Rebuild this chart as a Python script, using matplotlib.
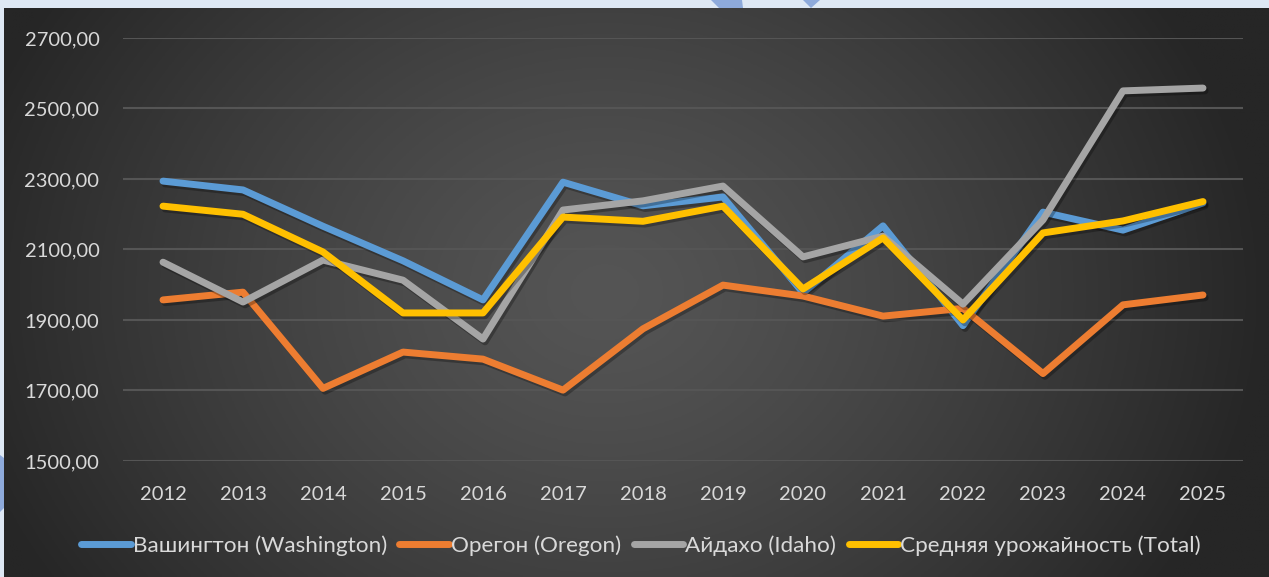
import numpy as np
import matplotlib.pyplot as plt
import matplotlib.patheffects as pe
from matplotlib.patches import Polygon

plt.rcParams['font.family'] = ['Lato', 'DejaVu Sans']

years = [str(y) for y in range(2012, 2026)]
washington = [2294, 2269, 2166, 2068, 1957, 2291, 2224, 2249, 1977, 2167, 1884, 2206, 2155, 2232]
oregon = [1957, 1979, 1706, 1809, 1789, 1701, 1875, 1999, 1968, 1911, 1933, 1748, 1943, 1971]
idaho = [2064, 1951, 2070, 2013, 1846, 2212, 2238, 2280, 2079, 2138, 1945, 2184, 2550, 2558]
total = [2223, 2200, 2093, 1920, 1920, 2192, 2180, 2223, 1988, 2133, 1900, 2147, 2181, 2236]

labels = ['Вашингтон (Washington)', 'Орегон (Oregon)', 'Айдахо (Idaho)',
          'Средняя урожайность (Total)']
colors = ['#5b9bd5', '#ed7d31', '#a5a5a5', '#ffc000']
yticks = [1500, 1700, 1900, 2100, 2300, 2500, 2700]

W, H = 1269, 577
fig = plt.figure(figsize=(W / 100, H / 100), dpi=100)
fig.patch.set_facecolor('#dee8f4')

# blue watermark bits on the light border
for pts in ([(711, 0), (742, 0), (743, 8), (719, 8)],
            [(803, 0), (820, 0), (811, 8)],
            [(0, 455), (4, 458), (4, 508), (0, 512)]):
    fig.patches.append(Polygon([(x / W, 1 - y / H) for x, y in pts],
                               closed=True, transform=fig.transFigure,
                               facecolor='#8eaadb', edgecolor='none'))

# dark radial gradient background
bg = fig.add_axes([4 / W, 0, 1 - 4 / W, 1 - 8 / H])
bg.set_axis_off()
gx, gy = np.meshgrid(np.linspace(-1, 1, 400), np.linspace(-1, 1, 200))
r = np.clip(np.sqrt((gx + 0.05) ** 2 + (gy * 0.55) ** 2) / 1.05, 0, 1)
c0, c1 = np.array([0x55, 0x55, 0x55]) / 255, np.array([0x26, 0x26, 0x26]) / 255
img = c0 + (c1 - c0) * r[..., None] ** 1.3
bg.imshow(img, aspect='auto', extent=[0, 1, 0, 1])

ax = fig.add_axes([123 / W, (H - 461) / H, (1243 - 123) / W, (461 - 38) / H])
ax.set_facecolor('none')
x = np.arange(len(years))
shadow = [pe.SimpleLineShadow(offset=(1.5, -2), shadow_color='black', alpha=0.28), pe.Normal()]
for vals, col, lab in zip([washington, oregon, idaho, total], colors, labels):
    ax.plot(x, vals, color=col, lw=5, label=lab, solid_capstyle='round',
            solid_joinstyle='round', path_effects=shadow)

ax.set_xlim(-0.5, len(years) - 0.5)
ax.set_ylim(1500, 2700)
ax.set_xticks(x)
ax.set_xticklabels(years)
ax.set_yticks(yticks)
ax.set_yticklabels([f'{v},00' for v in yticks])
ax.grid(axis='y', color='#555555', lw=1.5)
ax.set_axisbelow(True)
for s in ax.spines.values():
    s.set_visible(False)
ax.tick_params(length=0, colors='#d9d9d9', labelsize=14.5)
ax.tick_params(axis='y', pad=17)
ax.tick_params(axis='x', pad=18)

leg = ax.legend(loc='center', bbox_to_anchor=((641 - 123) / (1243 - 123),
                                              (H - 546 - (H - 461)) / (461 - 38)),
                ncol=4, frameon=False, fontsize=16.2, handlelength=2.2,
                handletextpad=0.1, columnspacing=0.55, labelcolor='#d9d9d9')
for h in leg.get_lines():
    h.set_linewidth(5)
    h.set_solid_capstyle('round')
    h.set_path_effects([])

fig.savefig('out.png', dpi=100, facecolor=fig.get_facecolor())
